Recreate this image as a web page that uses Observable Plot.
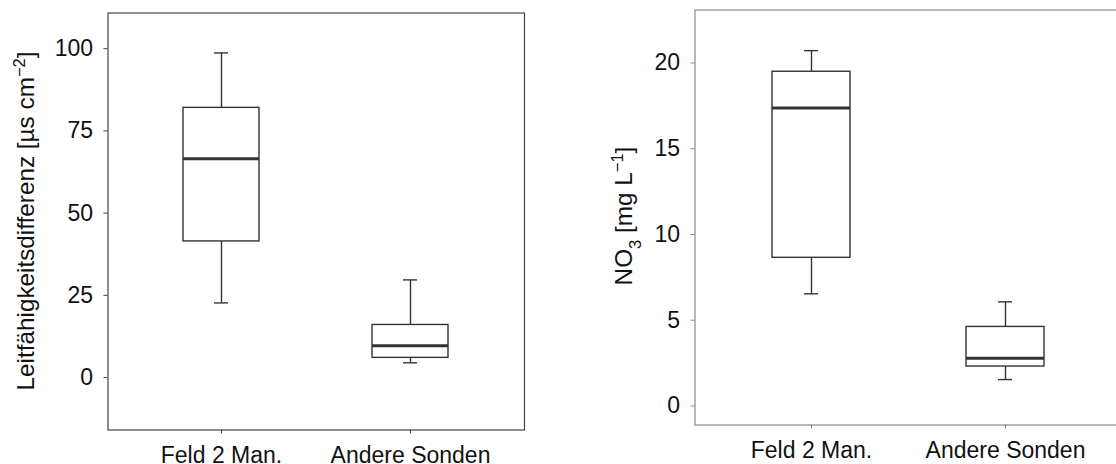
<!DOCTYPE html>
<html><head><meta charset="utf-8">
<script src="https://cdn.jsdelivr.net/npm/d3@7"></script>
<script src="https://cdn.jsdelivr.net/npm/@observablehq/plot@0.6"></script>
<style>
html,body{margin:0;padding:0;background:#fff;overflow:hidden}
#wrap{position:relative;width:1116px;height:464px;overflow:hidden;background:#fff}
#left,#right{position:absolute;top:0}
#left{left:0;width:560px}
#right{left:560px;width:600px}
#wrap svg{max-width:none !important}
</style></head><body><div id="wrap"><div id="left"></div><div id="right"></div></div>
<script>
const groups = ["Feld 2 Man.", "Andere Sonden"];

// Leitfähigkeitsdifferenz [µs cm-2]
const condWhiskerLow  = [22.7, 4.5];
const condQ1          = [41.4, 6.0];
const condMedian      = [66.5, 9.7];
const condQ3          = [82.0, 16.0];
const condWhiskerHigh = [98.7, 29.7];
const condTicks = [0, 25, 50, 75, 100];

// NO3 [mg L-1]
const no3WhiskerLow  = [6.54, 1.54];
const no3Q1          = [8.64, 2.30];
const no3Median      = [17.37, 2.78];
const no3Q3          = [19.49, 4.61];
const no3WhiskerHigh = [20.72, 6.07];
const no3Ticks = [0, 5, 10, 15, 20];

const FONT = "'Liberation Sans', Arial, Helvetica, sans-serif";
const BOX = "#333";

function rowsOf(lo, q1, med, q3, hi) {
  return groups.map((g, i) => ({group: g, lo: lo[i], q1: q1[i], med: med[i], q3: q3[i], hi: hi[i]}));
}

function boxPlot({rows, ticks, domain, width, marginLeft, marginRight, marginTop, marginBottom, frameColor, capInset}) {
  return Plot.plot({
    width, height: 464,
    marginLeft, marginRight, marginTop, marginBottom,
    style: {fontFamily: FONT, fontSize: "23px", color: "#111", background: "transparent", overflow: "visible", maxWidth: "none"},
    x: {type: "band", domain: groups, paddingInner: 0.6, paddingOuter: 0.397, label: null},
    y: {domain, label: null},
    marks: [
      Plot.frame({stroke: frameColor, strokeWidth: 1.2}),
      Plot.ruleX(rows, {x: "group", y1: "q3", y2: "hi", stroke: BOX, strokeWidth: 1.4}),
      Plot.ruleX(rows, {x: "group", y1: "lo", y2: "q1", stroke: BOX, strokeWidth: 1.4}),
      Plot.tickY(rows, {x: "group", y: "hi", stroke: BOX, strokeWidth: 1.4, insetLeft: capInset, insetRight: capInset}),
      Plot.tickY(rows, {x: "group", y: "lo", stroke: BOX, strokeWidth: 1.4, insetLeft: capInset, insetRight: capInset}),
      Plot.barY(rows, {x: "group", y1: "q1", y2: "q3", fill: "white", stroke: BOX, strokeWidth: 1.4}),
      Plot.tickY(rows, {x: "group", y: "med", stroke: BOX, strokeWidth: 3}),
      Plot.axisY({ticks, tickSize: 4, tickPadding: 11, label: null, stroke: frameColor, fontSize: 23}),
      Plot.axisX({tickSize: 4, tickPadding: 13, label: null, stroke: frameColor, fontSize: 23})
    ]
  });
}

const left = boxPlot({
  rows: rowsOf(condWhiskerLow, condQ1, condMedian, condQ3, condWhiskerHigh),
  ticks: condTicks, domain: [-15.93, 110.84],
  width: 560, marginLeft: 107.5, marginRight: 36, marginTop: 12.5, marginBottom: 34.5,
  frameColor: "#444", capInset: 31
});
const right = boxPlot({
  rows: rowsOf(no3WhiskerLow, no3Q1, no3Median, no3Q3, no3WhiskerHigh),
  ticks: no3Ticks, domain: [-1.11, 23.09],
  width: 580, marginLeft: 134.5, marginRight: 18.3, marginTop: 9.5, marginBottom: 39.5,
  frameColor: "#888", capInset: 32
});
document.getElementById("left").appendChild(left);
document.getElementById("right").appendChild(right);

// Y-axis titles with super/subscripts
function addTitle(svg, x, y, parts) {
  const t = d3.select(svg).append("text")
    .attr("transform", `translate(${x},${y}) rotate(-90)`)
    .attr("text-anchor", "middle")
    .attr("font-family", FONT)
    .attr("font-size", 24.3)
    .attr("fill", "#111");
  for (const p of parts) {
    const s = t.append("tspan").text(p.text);
    if (p.shift) s.attr("baseline-shift", p.shift).attr("font-size", 16.5);
  }
}
addTitle(left, 33.5, 221, [
  {text: "Leitfähigkeitsdifferenz [µs cm"},
  {text: "\u2212" + "2", shift: "super"},
  {text: "]"}
]);
addTitle(right, 72, 216, [
  {text: "NO"},
  {text: "3", shift: "sub"},
  {text: " [mg L"},
  {text: "\u2212" + "1", shift: "super"},
  {text: "]"}
]);
</script></body></html>
